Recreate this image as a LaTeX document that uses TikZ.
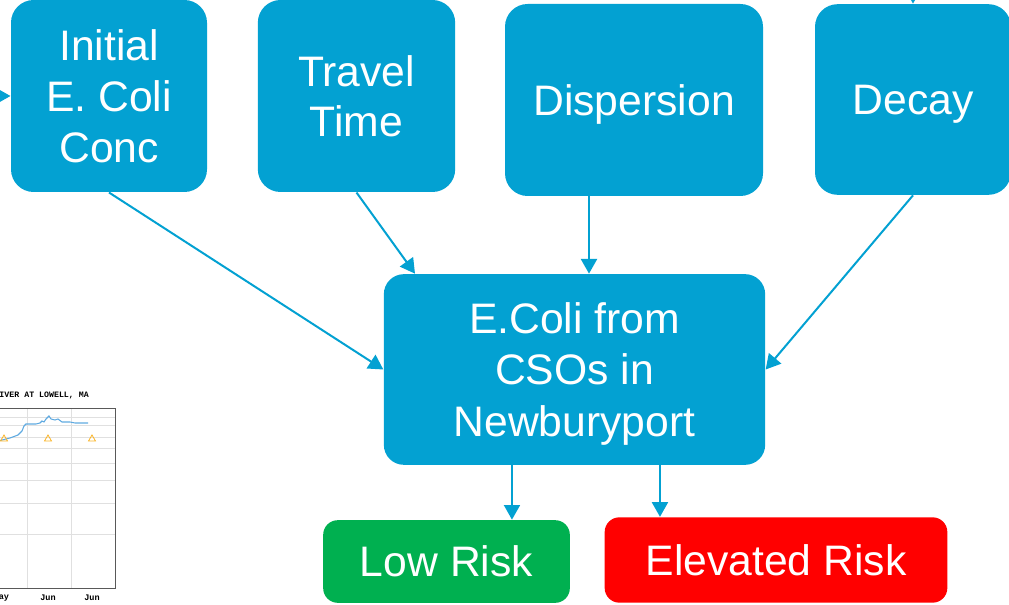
\documentclass[tikz,border=0pt]{standalone}
\usepackage{fontspec}
\setmainfont{Liberation Sans}
\newfontfamily\chartfont{Liberation Mono}
\usetikzlibrary{arrows.meta,calc}

\definecolor{boxblue}{RGB}{3,161,210}
\definecolor{riskgreen}{RGB}{0,176,80}
\definecolor{riskred}{RGB}{255,0,0}
\definecolor{flowblue}{RGB}{95,170,225}
\definecolor{markorange}{RGB}{250,180,40}

\tikzset{every picture/.style={line width=0.75pt}}
\tikzset{
  stepnode/.style={fill=boxblue, text=white, align=center, rounded corners=17pt,
    inner sep=0pt, text depth=0pt, font=\fontsize{32}{38}\selectfont},
  risknode/.style={text=white, align=center, rounded corners=11pt,
    inner sep=0pt, font=\fontsize{32}{37.5}\selectfont},
  feed/.style={draw=boxblue, line width=1.5pt, -{Triangle[length=11pt,width=12pt]}},
  gridline/.style={draw=black!12, line width=0.6pt}
}

\begin{document}
\begin{tikzpicture}[x=0.75pt,y=0.75pt,yscale=-1,xscale=1]
\useasboundingbox (0,0) rectangle (1009,605);

%Shape: Chart (river flow, partly cut off)
\foreach \gy in {417,425,437,448,463,480,503,534}
  \draw [gridline] (-5,\gy) -- (115,\gy) ;
\foreach \gx in {27,71}
  \draw [gridline] (\gx,408) -- (\gx,588) ;
\draw [black!65, line width=0.6pt] (-5,408) rectangle (115,588) ;
%Curve Lines
\draw [flowblue, line width=0.8pt] (-2,441) -- (10,438) -- (18,435) -- (22,431) -- (24,426) -- (26,424) -- (36,424) -- (40,423) -- (42,421) -- (44,422) -- (46,419) -- (49,416) -- (51,419) -- (55,420) -- (58,419) -- (62,422) -- (70,422) -- (75,423) -- (88,423) ;
\foreach \tx in {4,48,92}
  \draw [markorange, line width=0.6pt] (\tx-3.5,441) -- (\tx,435) -- (\tx+3.5,441) -- cycle ;
% Text Node
\draw (-1,395) node [anchor=west] [inner sep=0pt] {\chartfont\bfseries\fontsize{6.2}{7}\selectfont IVER AT LOWELL, MA};
\draw (4,598) node [inner sep=0pt] {\chartfont\bfseries\fontsize{6.4}{7}\selectfont ay};
\draw (48,598) node [inner sep=0pt] {\chartfont\bfseries\fontsize{6.4}{7}\selectfont Jun};
\draw (92,598) node [inner sep=0pt] {\chartfont\bfseries\fontsize{6.4}{7}\selectfont Jun};

%Shape: Rounded Rect (inputs)
\node [stepnode, minimum width=147pt, minimum height=144pt] (initial) at (109,96) {Initial\\E. Coli\\Conc};
\node [stepnode, minimum width=148pt, minimum height=144pt] (travel) at (356.5,96) {Travel\\Time};
\node [stepnode, minimum width=193.5pt, minimum height=144pt] (dispersion) at (634,100) {Dispersion};
\node [stepnode, minimum width=147pt, minimum height=143pt] (decay) at (913,99.5) {Decay};

%Shape: Rounded Rect (model)
\node [stepnode, rounded corners=15pt, minimum width=286pt, minimum height=143pt,
  font=\fontsize{32}{38.6}\selectfont] (ecoli) at (574.5,369.5) {E.Coli from\\CSOs in\\Newburyport};

%Shape: Rounded Rect (outcomes)
\node [risknode, fill=riskgreen, minimum width=185pt, minimum height=62pt] (lowrisk) at (446.5,561.5) {Low Risk};
\node [risknode, fill=riskred, minimum width=257pt, minimum height=64pt] (elevrisk) at (776,560) {Elevated Risk};

%Straight Lines (incoming, off the page)
\coordinate (leftin) at (-40,96);
\coordinate (topin) at (913,-40);
\draw [feed] (leftin) -- (initial.west) ;
\draw [feed] (topin) -- (decay.north) ;

%Straight Lines
\draw [feed] (initial.south) -- (ecoli.west) ;
\draw [feed] (travel.south) -- (ecoli.149) ;
\draw [feed] ([xshift=-33.75pt]dispersion.south) -- ([xshift=-33.75pt]dispersion.south |- ecoli.north) ;
\draw [feed] (decay.south) -- (ecoli.east) ;
\draw [feed] ([xshift=-46.9pt]ecoli.south) -- ([xshift=-46.9pt]ecoli.south |- lowrisk.north) ;
\draw [feed] ([xshift=64.1pt]ecoli.south) -- ([xshift=64.1pt]ecoli.south |- elevrisk.north) ;

\end{tikzpicture}
\end{document}
